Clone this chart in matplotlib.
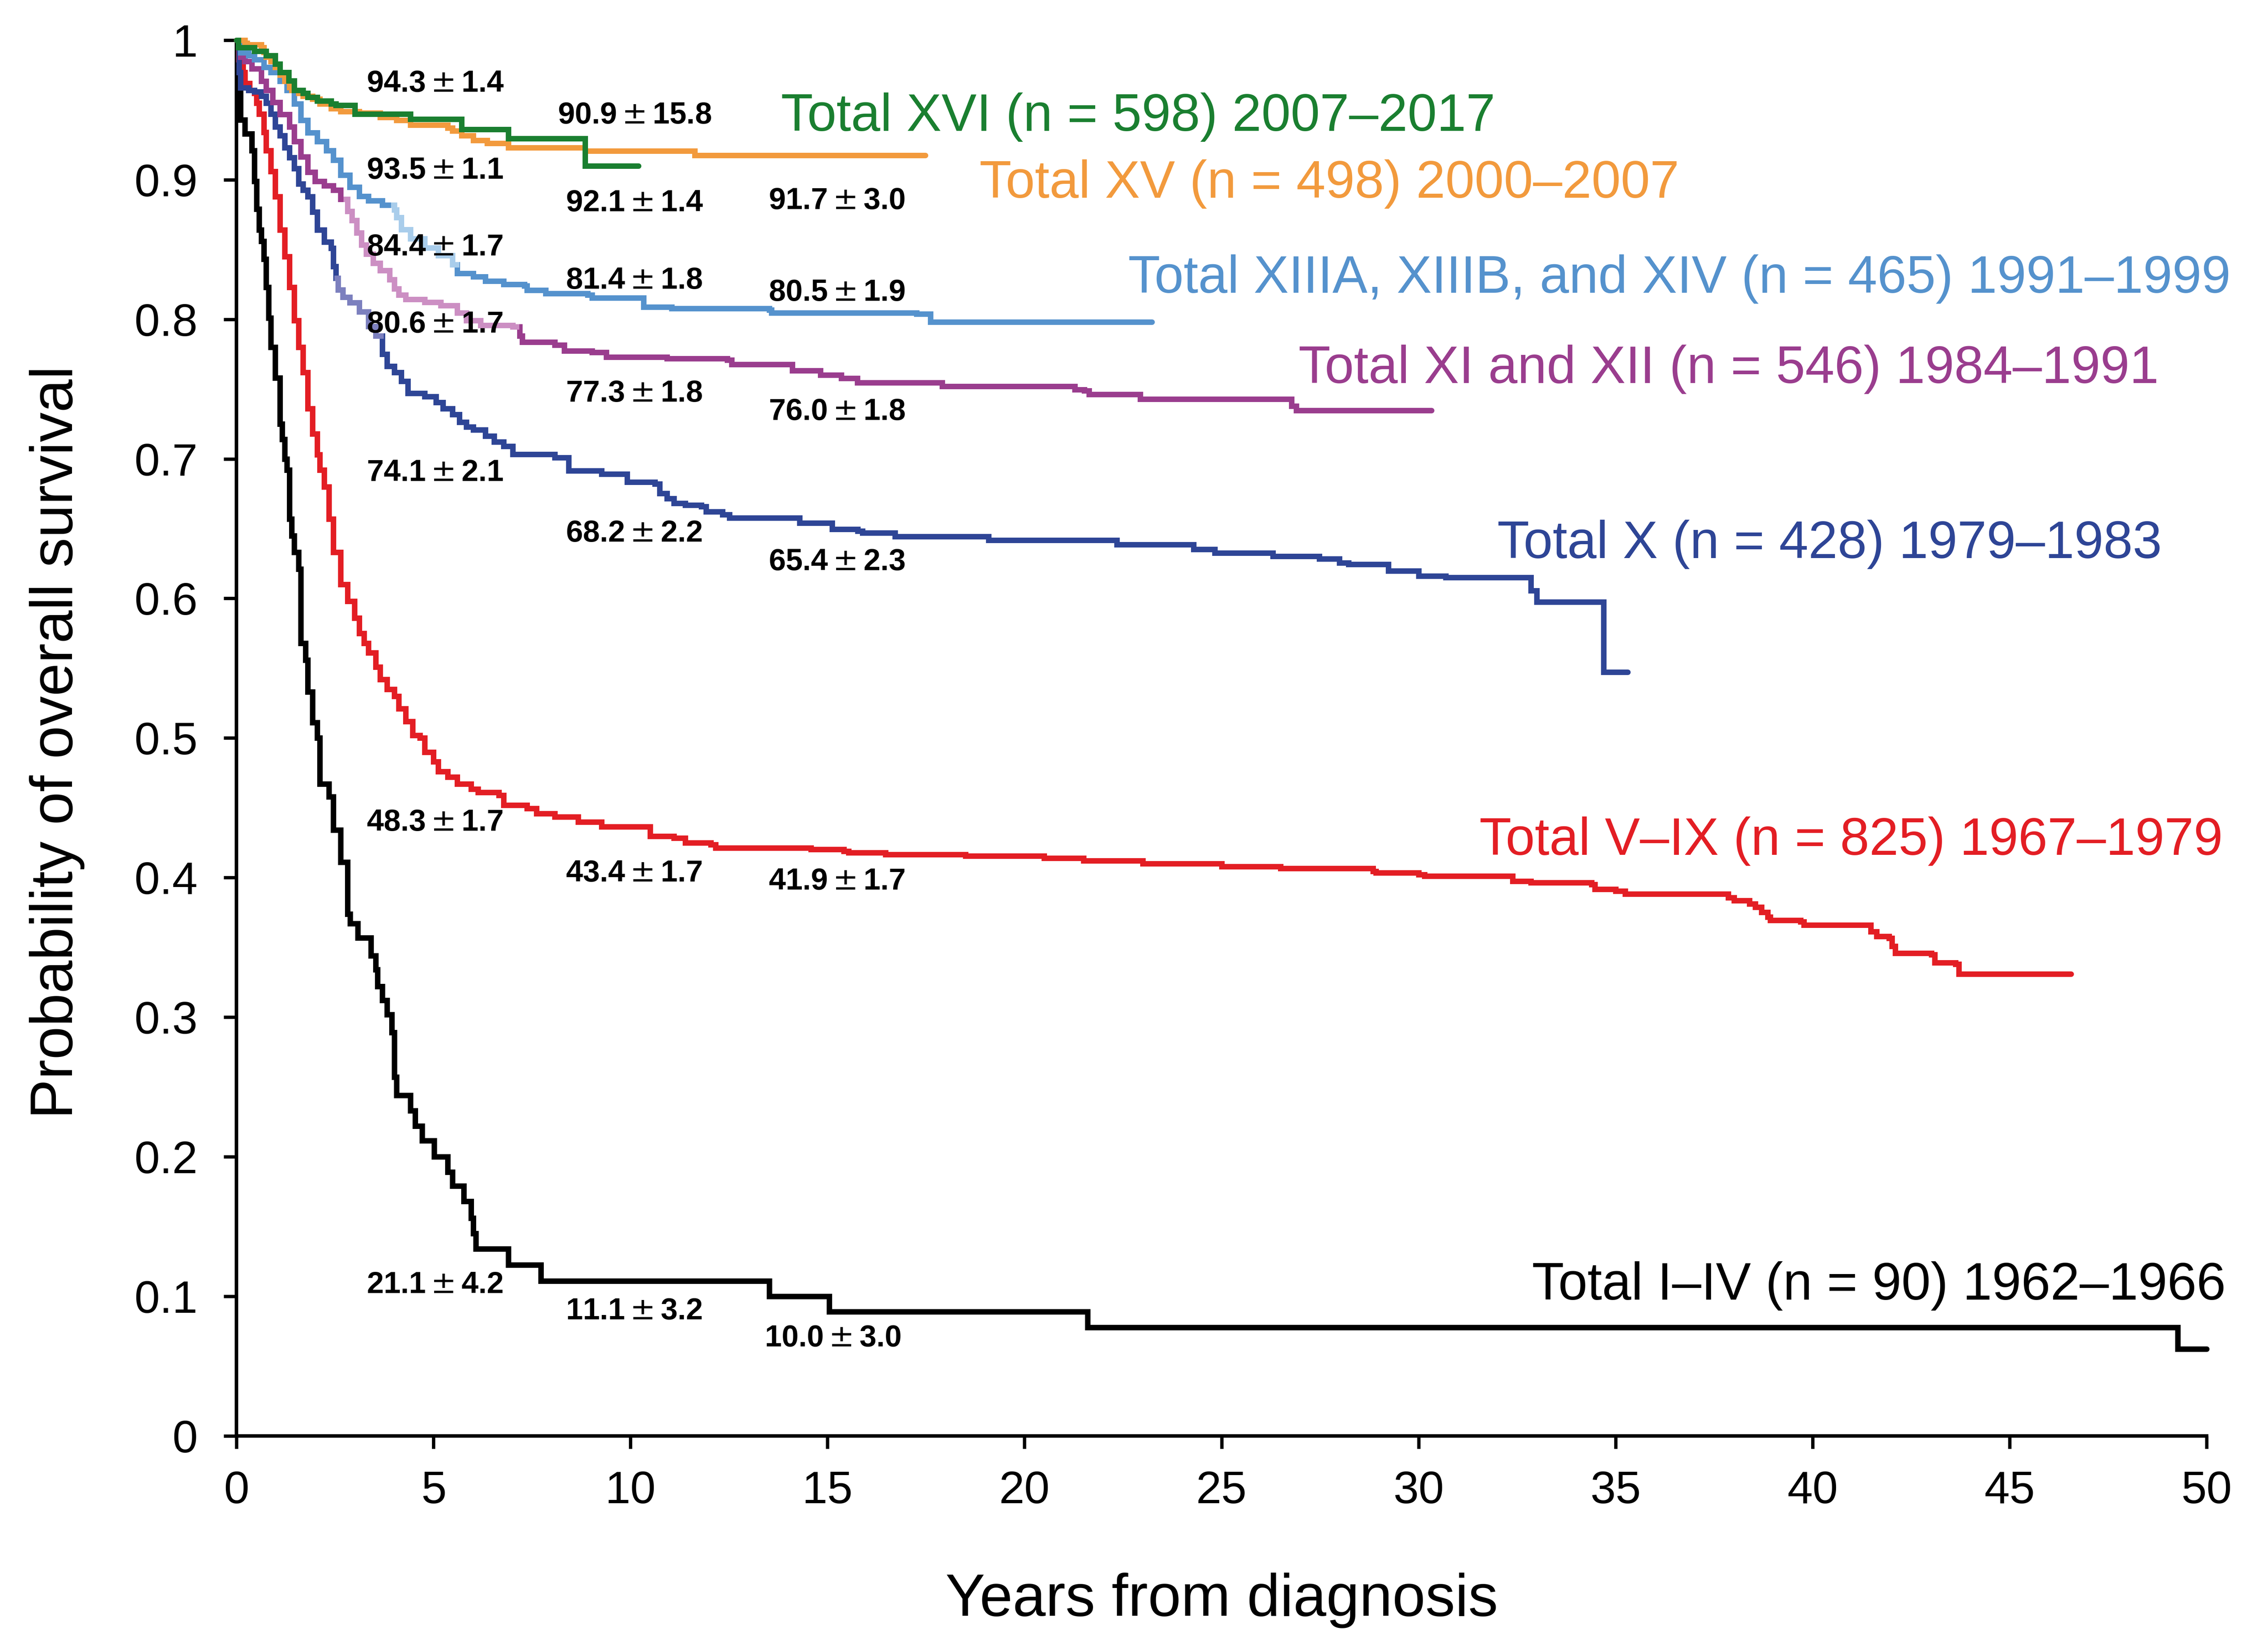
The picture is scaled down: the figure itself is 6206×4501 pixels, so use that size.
#!/usr/bin/env python3
"""
Overall survival by treatment era (Total Therapy studies), step curves
redrawn from the published figure.
"""

import numpy as np
import matplotlib

matplotlib.use("Agg")
import matplotlib.pyplot as plt

# ---------------------------------------------------------------------------
# Kaplan-Meier curves (time in years, survival fraction)
# ---------------------------------------------------------------------------
t_1_4 = [0, 0.04, 0.10, 0.21, 0.39, 0.45, 0.51, 0.57, 0.63, 0.69, 0.75, 0.81,
         0.87, 0.98, 1.10, 1.16, 1.22, 1.28, 1.34, 1.40, 1.46, 1.57, 1.63,
         1.75, 1.81, 1.93, 2.05, 2.11, 2.34, 2.46, 2.64, 2.82, 2.88, 3.08,
         3.41, 3.53, 3.58, 3.70, 3.82, 3.94, 4.00, 4.06, 4.41, 4.53, 4.71,
         5.02, 5.36, 5.48, 5.77, 5.95, 6.01, 6.07, 6.90, 7.72, 13.52, 15.04,
         21.6, 49.27, 50.0]
s_1_4 = [1.0, 0.966, 0.943, 0.933, 0.921, 0.899, 0.879, 0.864, 0.856, 0.843,
         0.823, 0.801, 0.780, 0.758, 0.725, 0.714, 0.700, 0.692, 0.657, 0.645,
         0.633, 0.621, 0.568, 0.556, 0.533, 0.511, 0.500, 0.467, 0.458, 0.434,
         0.411, 0.374, 0.367, 0.357, 0.344, 0.334, 0.322, 0.312, 0.302, 0.289,
         0.257, 0.244, 0.233, 0.222, 0.2115, 0.200, 0.189, 0.179, 0.168,
         0.156, 0.145, 0.134, 0.1225, 0.111, 0.100, 0.0889, 0.0778, 0.0622,
         0.0622]

t_5_9 = [0, 0.05, 0.16, 0.21, 0.33, 0.45, 0.51, 0.57, 0.69, 0.75, 0.87, 0.98,
         1.10, 1.22, 1.34, 1.46, 1.57, 1.69, 1.81, 1.93, 2.05, 2.11, 2.22,
         2.34, 2.46, 2.64, 2.82, 2.99, 3.11, 3.23, 3.35, 3.53, 3.64, 3.82,
         4.00, 4.12, 4.29, 4.47, 4.65, 4.77, 5.00, 5.12, 5.36, 5.60, 5.95,
         6.13, 6.66, 6.78, 7.37, 7.61, 8.08, 8.67, 9.26, 10.50, 11.10, 11.39,
         12.04, 12.16, 14.58, 15.41, 15.53, 16.47, 18.5, 20.5, 21.5, 23.0,
         25.0, 26.5, 28.84, 28.92, 30.0, 30.15, 32.39, 32.85, 34.39, 34.47,
         35.0, 35.24, 37.86, 38.01, 38.4, 38.55, 38.7, 38.86, 38.93, 39.7,
         39.78, 41.48, 41.63, 41.94, 42.02, 42.1, 43.02, 43.1, 43.63, 43.71,
         46.56]
s_5_9 = [1.0, 0.986, 0.977, 0.969, 0.964, 0.962, 0.955, 0.947, 0.934, 0.921,
         0.906, 0.888, 0.864, 0.845, 0.823, 0.799, 0.780, 0.762, 0.736, 0.718,
         0.703, 0.692, 0.680, 0.657, 0.633, 0.610, 0.598, 0.586, 0.575, 0.568,
         0.561, 0.551, 0.542, 0.535, 0.530, 0.521, 0.512, 0.502, 0.500, 0.490,
         0.483, 0.476, 0.472, 0.467, 0.4635, 0.461, 0.459, 0.452, 0.4495,
         0.446, 0.4436, 0.440, 0.4366, 0.4296, 0.4284, 0.4249, 0.4237, 0.4214,
         0.4202, 0.419, 0.4179, 0.4167, 0.4155, 0.414, 0.412, 0.410, 0.408,
         0.4065, 0.4046, 0.4034, 0.4022, 0.401, 0.3975, 0.3964, 0.3952,
         0.3917, 0.3905, 0.3882, 0.3858, 0.3835, 0.3812, 0.3788, 0.3753,
         0.3718, 0.3695, 0.3683, 0.366, 0.3613, 0.3578, 0.3566, 0.3508, 0.346,
         0.3449, 0.339, 0.3379, 0.3309, 0.3309]

t_10 = [0, 0.06, 0.10, 0.30, 0.45, 0.63, 0.75, 0.87, 0.98, 1.10, 1.22, 1.34,
        1.46, 1.57, 1.69, 1.81, 1.93, 2.05, 2.22, 2.40, 2.46, 2.52, 2.58,
        2.70, 2.87, 3.11, 3.35, 3.53, 3.70, 3.82, 4.00, 4.18, 4.35, 4.77,
        5.06, 5.24, 5.48, 5.66, 5.83, 6.01, 6.31, 6.54, 6.78, 7.01, 8.08,
        8.43, 9.26, 9.91, 10.62, 10.74, 10.92, 11.10, 11.39, 11.80, 11.92,
        12.33, 12.51, 14.29, 15.12, 15.77, 15.89, 16.71, 19.09, 22.34, 24.29,
        24.83, 26.30, 27.48, 27.99, 28.22, 29.23, 30.0, 30.69, 32.85, 33.0,
        34.70, 35.31]
s_10 = [1.0, 0.977, 0.966, 0.964, 0.963, 0.960, 0.955, 0.947, 0.938, 0.9315,
        0.923, 0.916, 0.908, 0.897, 0.8925, 0.888, 0.877, 0.864, 0.8555,
        0.851, 0.838, 0.8295, 0.821, 0.816, 0.812, 0.8055, 0.795, 0.788,
        0.775, 0.7665, 0.762, 0.7556, 0.747, 0.7447, 0.7404, 0.736, 0.7317,
        0.7263, 0.723, 0.7208, 0.7165, 0.7122, 0.709, 0.7033, 0.7009, 0.6916,
        0.6892, 0.6834, 0.6822, 0.6752, 0.6717, 0.6682, 0.667, 0.6658,
        0.6623, 0.660, 0.6576, 0.6541, 0.6495, 0.6483, 0.6471, 0.6444,
        0.6418, 0.6385, 0.6352, 0.6326, 0.6302, 0.6285, 0.6256, 0.6244,
        0.6198, 0.6162, 0.6151, 0.6057, 0.5975, 0.5472, 0.5472]

t_11_12 = [0, 0.10, 0.21, 0.39, 0.63, 0.75, 0.92, 1.10, 1.34, 1.46, 1.63,
           1.81, 1.99, 2.22, 2.46, 2.64, 2.82, 2.93, 3.05, 3.17, 3.29, 3.47,
           3.64, 3.88, 4.00, 4.12, 4.29, 4.77, 5.18, 5.60, 5.83, 6.19, 7.01,
           7.19, 7.25, 8.08, 8.32, 9.02, 9.38, 10.92, 12.45, 12.57, 14.11,
           14.82, 15.35, 15.76, 17.91, 21.28, 21.52, 21.64, 22.94, 26.78,
           26.90, 30.33]
s_11_12 = [1.0, 0.988, 0.9848, 0.9794, 0.9707, 0.9642, 0.9554, 0.9467, 0.938,
           0.9273, 0.9164, 0.9055, 0.899, 0.8958, 0.8925, 0.886, 0.8773,
           0.8708, 0.862, 0.8534, 0.8469, 0.8403, 0.8349, 0.8284, 0.8219,
           0.8175, 0.8143, 0.8121, 0.8099, 0.8045, 0.799, 0.7958, 0.7947,
           0.7882, 0.7838, 0.7817, 0.7773, 0.7763, 0.773, 0.772, 0.7708,
           0.7676, 0.7632, 0.760, 0.7578, 0.7545, 0.7521, 0.7496, 0.7488,
           0.7463, 0.7429, 0.7379, 0.7346, 0.7346]

t_13_14 = [0, 0.10, 0.30, 0.45, 0.69, 0.87, 1.10, 1.28, 1.46, 1.63, 1.81,
           2.05, 2.28, 2.46, 2.64, 2.87, 3.11, 3.35, 3.70, 4.00, 4.06, 4.18,
           4.41, 4.77, 5.12, 5.48, 5.60, 6.01, 6.31, 6.78, 7.31, 7.37, 7.84,
           8.91, 9.02, 10.33, 11.04, 13.52, 13.58, 17.26, 17.61, 23.23]
s_13_14 = [1.0, 0.991, 0.989, 0.986, 0.9805, 0.977, 0.9707, 0.9642, 0.9544,
           0.9425, 0.9338, 0.9273, 0.9208, 0.9142, 0.9034, 0.8947, 0.8882,
           0.885, 0.8818, 0.8784, 0.8729, 0.8643, 0.8577, 0.8512, 0.8458,
           0.8393, 0.8328, 0.8306, 0.8273, 0.8251, 0.824, 0.8208, 0.8186,
           0.8175, 0.8154, 0.8088, 0.8077, 0.8066, 0.8045, 0.8039, 0.798,
           0.798]

t_15 = [0, 0.21, 0.27, 0.63, 0.69, 0.75, 0.87, 0.98, 1.10, 1.22, 1.34, 1.40,
        1.57, 1.69, 1.93, 2.11, 2.40, 2.64, 3.11, 3.64, 4.06, 4.41, 5.36,
        5.48, 5.71, 6.01, 6.36, 6.90, 8.85, 11.63, 17.48]
s_15 = [1.0, 0.9979, 0.9967, 0.9946, 0.9913, 0.988, 0.9848, 0.9805, 0.975,
        0.9707, 0.9663, 0.9642, 0.962, 0.9598, 0.9577, 0.9544, 0.9511, 0.949,
        0.9478, 0.9446, 0.9425, 0.9392, 0.937, 0.9349, 0.9316, 0.9283,
        0.9261, 0.9229, 0.9207, 0.9175, 0.9175]

t_16 = [0, 0.04, 0.45, 0.75, 0.98, 1.10, 1.32, 1.46, 1.69, 1.81, 2.05, 2.40,
        2.52, 3.00, 4.41, 5.71, 6.90, 8.85, 10.2]
s_16 = [1.0, 0.9946, 0.992, 0.989, 0.983, 0.977, 0.971, 0.964, 0.962, 0.959,
        0.9566, 0.9544, 0.9533, 0.947, 0.9435, 0.936, 0.9295, 0.910, 0.910]

# survival and SE (%) at 5, 10 and 15 years
est_1_4 = [("21.1", "4.2"), ("11.1", "3.2"), ("10.0", "3.0")]
est_5_9 = [("48.3", "1.7"), ("43.4", "1.7"), ("41.9", "1.7")]
est_10 = [("74.1", "2.1"), ("68.2", "2.2"), ("65.4", "2.3")]
est_11_12 = [("80.6", "1.7"), ("77.3", "1.8"), ("76.0", "1.8")]
est_13_14 = [("84.4", "1.7"), ("81.4", "1.8"), ("80.5", "1.9")]
est_15 = [("93.5", "1.1"), ("92.1", "1.4"), ("91.7", "3.0")]
est_16 = [("94.3", "1.4"), ("90.9", "15.8")]

labels = [
    "Total I\u2013IV (n = 90) 1962\u20131966",
    "Total V\u2013IX (n = 825) 1967\u20131979",
    "Total X (n = 428) 1979\u20131983",
    "Total XI and XII (n = 546) 1984\u20131991",
    "Total XIIIA, XIIIB, and XIV (n = 465) 1991\u20131999",
    "Total XV (n = 498) 2000\u20132007",
    "Total XVI (n = 598) 2007\u20132017",
]

# ---------------------------------------------------------------------------
# styling / placement
# ---------------------------------------------------------------------------
colors = ["#000000", "#E31E24", "#2E4596", "#9A3D8E", "#5592CD", "#F29A3D",
          "#1A7F30"]
# lighter stretches visible on three curves in the original
highlight = {2: (2.55, 3.66, "#7C80BE"), 3: (2.78, 7.10, "#CC8FC3"),
             4: (3.99, 5.58, "#A9CDEB")}
# where the curve labels sit (x in years, baseline in survival units)
label_pos = [(32.88, 0.0977), (31.54, 0.4163), (32.0, 0.629), (26.95, 0.7543),
             (22.63, 0.819), (18.85, 0.887), (13.82, 0.935)]
# where the 5/10/15-year estimates sit
est_x = [3.30, 8.35, 13.50]
est_y = [
    [0.1024, 0.0836, 0.0641],
    [0.4336, 0.3973, 0.3915],
    [0.6841, 0.6406, 0.6202],
    [0.7904, 0.7409, 0.7278],
    [0.8458, 0.8219, 0.8132],
    [0.9007, 0.8773, 0.879],
    [0.963, 0.9403],
]


def segment(t, s, a, b):
    """Part of a post-step curve between times a and b."""
    t = np.asarray(t)
    s = np.asarray(s)
    i0 = np.searchsorted(t, a, side="right") - 1
    i1 = np.searchsorted(t, b, side="right")
    tt = np.concatenate([[a], t[i0 + 1:i1], [b]])
    ss = np.concatenate([[s[i0]], s[i0 + 1:i1], [s[i1 - 1]]])
    return tt, ss


def main():
    plt.rcParams["font.family"] = ["Liberation Sans", "DejaVu Sans"]
    # bold Arial-like digits, thin wide plus-minus sign
    plt.rcParams["mathtext.fontset"] = "custom"
    plt.rcParams["mathtext.rm"] = "DejaVu Sans"
    plt.rcParams["mathtext.it"] = "DejaVu Sans:italic"
    plt.rcParams["mathtext.bf"] = "Liberation Sans:bold"

    times = [t_1_4, t_5_9, t_10, t_11_12, t_13_14, t_15, t_16]
    survs = [s_1_4, s_5_9, s_10, s_11_12, s_13_14, s_15, s_16]
    ests = [est_1_4, est_5_9, est_10, est_11_12, est_13_14, est_15, est_16]

    fig = plt.figure(figsize=(6206 / 300, 4501 / 300), dpi=300)
    ax = fig.add_axes([0.1043, 0.1271, 0.8686, 0.8485])

    lw = 3.6
    for i, (t, s) in enumerate(zip(times, survs)):
        ax.step(t, s, where="post", color=colors[i], lw=lw, clip_on=False,
                solid_joinstyle="miter", solid_capstyle="round", zorder=3 + i)
        if i in highlight:
            a, b, c = highlight[i]
            tt, ss = segment(t, s, a, b)
            ax.step(tt, ss, where="post", color=c, lw=lw, clip_on=False,
                    solid_joinstyle="miter", zorder=3 + i + 0.5)

    # curve labels
    for i, txt in enumerate(labels):
        x, y = label_pos[i]
        ax.text(x, y, txt, color=colors[i], fontsize=34.5, ha="left",
                va="baseline", clip_on=False, zorder=20)

    # 5/10/15-year estimates
    for i, vals in enumerate(ests):
        for j, (est, se) in enumerate(vals):
            x = est_x[j]
            if i == 6 and j == 1:
                x = 8.15
            if i == 0 and j == 2:
                x = 13.40
            txt = r"$\mathbf{%s}\,{\pm}\,\mathbf{%s}$" % (est, se)
            ax.text(x, est_y[i][j], txt, fontsize=20, ha="left",
                    va="baseline", color="black", zorder=20)

    ax.set_xlim(0, 50)
    ax.set_ylim(0, 1)
    ax.set_xticks(np.arange(0, 51, 5))
    ax.set_yticks(np.arange(0, 1.01, 0.1))
    ax.set_yticklabels(["0"] + [f"{v:.1f}" for v in np.arange(0.1, 0.95, 0.1)]
                       + ["1"])

    for side in ["top", "right"]:
        ax.spines[side].set_visible(False)
    for side in ["left", "bottom"]:
        ax.spines[side].set_linewidth(2.3)

    ax.tick_params(axis="both", direction="out", length=8.5, width=2.2,
                   labelsize=30)
    ax.tick_params(axis="x", pad=14)
    ax.tick_params(axis="y", pad=17)

    ax.set_xlabel("Years from diagnosis", fontsize=39)
    ax.set_ylabel("Probability of overall survival", fontsize=39)
    ax.xaxis.set_label_coords(0.5, -0.098)
    ax.yaxis.set_label_coords(-0.077, 0.497)

    fig.savefig("out.png", dpi=300)


if __name__ == "__main__":
    main()
